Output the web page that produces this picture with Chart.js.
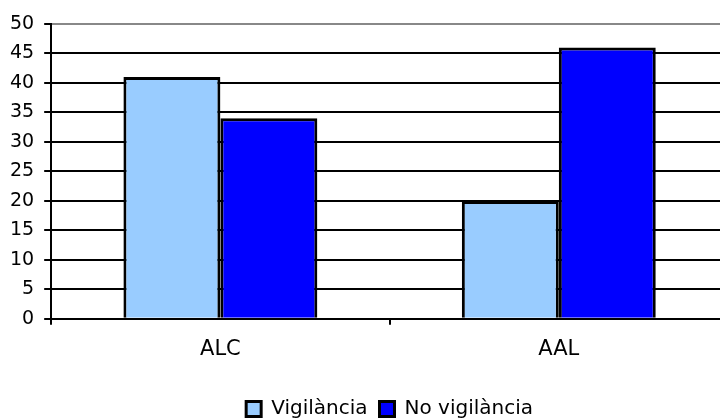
<!DOCTYPE html>
<html>
<head>
<meta charset="utf-8">
<script src="https://cdn.jsdelivr.net/npm/chart.js@4/dist/chart.umd.min.js"></script>
<style>
  html, body { margin: 0; padding: 0; background: #fff; overflow: hidden; }
  #wrap { width: 730px; height: 418px; }
</style>
</head>
<body>
<div id="wrap"><canvas id="myChart" width="730" height="418"></canvas></div>
<script>
// values
const categories = ['ALC', 'AAL'];
const vigilancia = [41, 20];
const noVigilancia = [34, 46];
const seriesNames = ['Vigilància', 'No vigilància'];

// the legend is centred under the plot area, not under the whole canvas
const centerLegend = {
    id: 'centerLegend',
    afterLayout(chart) {
        const lg = chart.legend;
        const area = chart.chartArea;
        const dx = (area.left + area.right) / 2 - (lg.left + lg.right) / 2;
        lg.left += dx;
        lg.right += dx;
    }
};

const ctx = document.getElementById('myChart').getContext('2d');
new Chart(ctx, {
    type: 'bar',
    data: {
        labels: categories,
        datasets: [
            {
                label: seriesNames[0],
                data: vigilancia,
                backgroundColor: '#99CCFF',
                borderColor: '#000000',
                borderWidth: 3,
                categoryPercentage: 0.573,
                barPercentage: 1.0
            },
            {
                label: seriesNames[1],
                data: noVigilancia,
                backgroundColor: '#0000FF',
                borderColor: '#000000',
                borderWidth: 3,
                categoryPercentage: 0.573,
                barPercentage: 1.0
            }
        ]
    },
    plugins: [centerLegend],
    options: {
        responsive: false,
        animation: false,
        layout: { padding: { top: 24, left: 0, right: 2, bottom: -11 } },
        plugins: {
            tooltip: { enabled: false },
            legend: {
                position: 'bottom',
                labels: {
                    color: '#000',
                    font: { family: 'DejaVu Sans', size: 20 },
                    boxWidth: 15,
                    boxHeight: 15,
                    padding: 12
                }
            }
        },
        scales: {
            x: {
                grid: {
                    offset: true,
                    drawOnChartArea: false,
                    drawTicks: true,
                    tickLength: 6,
                    color: '#000',
                    lineWidth: 2
                },
                border: { color: '#000', width: 2 },
                ticks: {
                    color: '#000',
                    font: { family: 'DejaVu Sans', size: 21 },
                    padding: 12
                },
                title: {
                    display: true,
                    text: '',
                    font: { size: 10 },
                    padding: { top: 0, bottom: 1 }
                }
            },
            y: {
                min: 0,
                max: 50,
                grid: {
                    color: c => c.tick && c.tick.value === 50 ? '#888888' : '#000000',
                    lineWidth: 2,
                    tickLength: 7,
                    tickColor: '#000'
                },
                border: { color: '#000', width: 2 },
                ticks: {
                    stepSize: 5,
                    color: '#000',
                    font: { family: 'DejaVu Sans', size: 19 },
                    padding: 10
                }
            }
        }
    }
});
</script>
</body>
</html>
